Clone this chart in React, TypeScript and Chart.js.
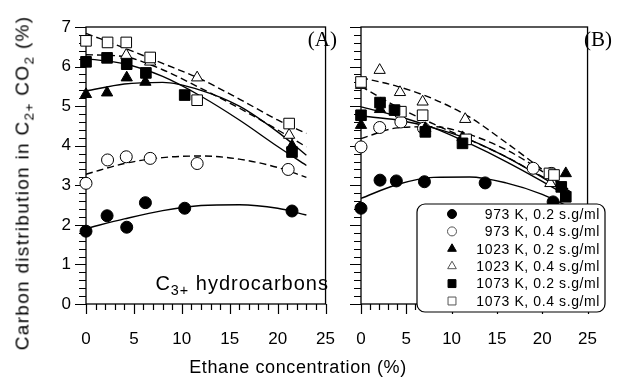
import React, { useEffect, useRef } from 'react';
import { Chart, registerables } from 'chart.js';

Chart.register(...registerables);

// Axis ticks
const X_TICKS = [0, 5, 10, 15, 20, 25];
const Y_TICKS = [0, 1, 2, 3, 4, 5, 6, 7];
const X_MINOR_STEP = 1;
const Y_MINOR_STEP = 0.2;

const SERIES_LABELS = [
  '973 K, 0.2 s.g/ml',
  '973 K, 0.4 s.g/ml',
  '1023 K, 0.2 s.g/ml',
  '1023 K, 0.4 s.g/ml',
  '1073 K, 0.2 s.g/ml',
  '1073 K, 0.4 s.g/ml',
];

// Panel (A) measurements: ethane concentration (%) / carbon share (%)
const A_973_02_X = [0, 2.2, 4.25, 6.2, 10.3, 21.5];
const A_973_02_Y = [1.84, 2.23, 1.94, 2.56, 2.42, 2.35];
const A_973_04_X = [0, 2.25, 4.2, 6.7, 11.6, 21.1];
const A_973_04_Y = [3.05, 3.64, 3.72, 3.68, 3.55, 3.4];
const A_1023_02_X = [0, 2.2, 4.25, 6.2, 21.5];
const A_1023_02_Y = [5.3, 5.34, 5.72, 5.61, 4.0];
const A_1023_04_X = [4.2, 6.7, 11.6, 21.2];
const A_1023_04_Y = [6.29, 6.12, 5.72, 4.27];
const A_1073_02_X = [0, 2.2, 4.25, 6.25, 10.3, 21.5];
const A_1073_02_Y = [6.12, 6.22, 6.06, 5.84, 5.28, 3.84];
const A_1073_04_X = [0, 2.25, 4.2, 6.7, 11.6, 21.2];
const A_1073_04_Y = [6.65, 6.61, 6.61, 6.23, 5.15, 4.56];

// Panel (B) measurements
const B_973_02_X = [0, 2.1, 3.9, 7.0, 13.7, 21.2];
const B_973_02_Y = [2.42, 3.13, 3.11, 3.09, 3.06, 2.58];
const B_973_04_X = [0, 2.06, 4.4, 6.9, 19.0, 21.0];
const B_973_04_Y = [3.97, 4.46, 4.6, 4.44, 3.43, 3.3];
const B_1023_02_X = [0, 2.1, 7.1, 11.2, 22.6];
const B_1023_02_Y = [4.52, 4.92, 4.44, 4.21, 3.3];
const B_1023_04_X = [0, 2.06, 4.3, 6.8, 11.5, 20.9];
const B_1023_04_Y = [5.53, 5.91, 5.35, 5.11, 4.67, 3.05];
const B_1073_02_X = [0, 2.1, 3.7, 7.1, 11.2, 22.1, 22.6];
const B_1073_02_Y = [4.77, 5.09, 4.9, 4.35, 4.06, 2.96, 2.71];
const B_1073_04_X = [0, 4.4, 6.8, 11.6, 20.8, 21.3];
const B_1073_04_Y = [5.61, 4.86, 4.77, 4.16, 3.3, 3.26];

// Fitted trend lines, sampled along the ethane axis
const FIT_X = [0, 4, 8, 12, 16, 20, 23];
const A_FIT_973_02 = [1.91, 2.15, 2.36, 2.49, 2.51, 2.42, 2.25];
const A_FIT_973_04 = [3.28, 3.55, 3.7, 3.74, 3.66, 3.45, 3.2];
const A_FIT_1023_02 = [5.38, 5.56, 5.6, 5.4, 5.0, 4.35, 3.76];
const A_FIT_1023_04 = [6.3, 6.25, 5.92, 5.45, 4.95, 4.4, 3.97];
const A_FIT_1073_02 = [6.2, 6.07, 5.75, 5.25, 4.65, 3.98, 3.5];
const A_FIT_1073_04 = [6.84, 6.47, 6.08, 5.68, 5.18, 4.65, 4.31];

const B_FIT_973_02 = [2.67, 3.02, 3.2, 3.21, 3.06, 2.77, 2.45];
const B_FIT_973_04 = [4.18, 4.45, 4.48, 4.28, 3.9, 3.35, 2.85];
const B_FIT_1023_02 = [4.75, 4.65, 4.45, 4.15, 3.72, 3.2, 2.78];
const B_FIT_1023_04 = [5.72, 5.5, 5.18, 4.72, 4.08, 3.4, 2.88];
const B_FIT_1073_02 = [4.98, 4.75, 4.45, 4.05, 3.6, 3.1, 2.7];
const B_FIT_1073_04 = [5.5, 4.98, 4.55, 4.15, 3.72, 3.22, 2.85];

type Marker = { pointStyle: string; radius: number; legendRadius: number; filled: boolean; order: number };

const MARKERS: Marker[] = [
  { pointStyle: 'circle', radius: 6, legendRadius: 4.5, filled: true, order: 5 },
  { pointStyle: 'circle', radius: 6, legendRadius: 4.5, filled: false, order: 6 },
  { pointStyle: 'triangle', radius: 6.5, legendRadius: 5, filled: true, order: 3 },
  { pointStyle: 'triangle', radius: 6.5, legendRadius: 5, filled: false, order: 4 },
  { pointStyle: 'rect', radius: 7.5, legendRadius: 5.6, filled: true, order: 1 },
  { pointStyle: 'rect', radius: 7.5, legendRadius: 5.6, filled: false, order: 2 },
];
const FIT_DASHED = [false, true, false, true, false, true];

const FONT_FAMILY = '"Liberation Sans", Arial, Helvetica, sans-serif';

function pts(xs: number[], ys: number[]) {
  return xs.map((x, i) => ({ x, y: ys[i] }));
}

function buildDatasets(xs: number[][], ys: number[][], fits: number[][]) {
  const ds: any[] = [];
  fits.forEach((f, i) => {
    ds.push({
      type: 'line',
      label: SERIES_LABELS[i] + ' fit',
      data: pts(FIT_X, f),
      borderColor: '#000',
      borderWidth: 1.4,
      borderDash: FIT_DASHED[i] ? [7, 4] : [],
      pointRadius: 0,
      cubicInterpolationMode: 'monotone',
      fill: false,
      order: 10,
      clip: false,
    });
  });
  xs.forEach((x, i) => {
    const m = MARKERS[i];
    ds.push({
      type: 'scatter',
      label: SERIES_LABELS[i],
      data: pts(x, ys[i]),
      showLine: false,
      pointStyle: m.pointStyle,
      pointRadius: m.radius,
      pointBackgroundColor: m.filled ? '#000' : '#fff',
      pointBorderColor: '#000',
      pointBorderWidth: 1,
      order: m.order,
      clip: false,
    });
  });
  return ds;
}

// Small marker glyph for the key
function keyMarker(ctx: CanvasRenderingContext2D, style: string, r: number, x: number, y: number) {
  ctx.beginPath();
  if (style === 'circle') {
    ctx.arc(x, y, r, 0, Math.PI * 2);
  } else if (style === 'triangle') {
    const h = r * 1.5;
    const w = r * Math.sqrt(3);
    ctx.moveTo(x, y - r);
    ctx.lineTo(x + w / 2, y - r + h);
    ctx.lineTo(x - w / 2, y - r + h);
    ctx.closePath();
  } else {
    const s = r * Math.SQRT1_2;
    ctx.rect(x - s, y - s, 2 * s, 2 * s);
  }
  ctx.fill();
  ctx.stroke();
}

// Frame plus major / minor tick marks pointing outward
const framePlugin = {
  id: 'frameTicks',
  beforeDatasetsDraw(chart: any) {
    const { ctx, chartArea: a, scales } = chart;
    const x = scales.x;
    const y = scales.y;
    ctx.save();
    ctx.strokeStyle = '#000';
    ctx.lineWidth = 1.3;
    ctx.strokeRect(a.left, a.top, a.right - a.left, a.bottom - a.top);
    ctx.lineWidth = 1.2;
    ctx.beginPath();
    const xMax = X_TICKS[X_TICKS.length - 1];
    for (let v = X_TICKS[0]; v <= xMax + 1e-9; v += X_MINOR_STEP) {
      const px = Math.round(x.getPixelForValue(v)) + 0.5;
      const major = X_TICKS.some((t) => Math.abs(t - v) < 1e-6);
      ctx.moveTo(px, a.bottom);
      ctx.lineTo(px, a.bottom + (major ? 10 : 6));
    }
    const yMax = Y_TICKS[Y_TICKS.length - 1];
    const n = Math.round((yMax - Y_TICKS[0]) / Y_MINOR_STEP);
    for (let i = 0; i <= n; i++) {
      const v = Y_TICKS[0] + i * Y_MINOR_STEP;
      const py = Math.round(y.getPixelForValue(v)) + 0.5;
      const major = Y_TICKS.some((t) => Math.abs(t - v) < 1e-6);
      ctx.moveTo(a.left, py);
      ctx.lineTo(a.left - (major ? 11 : 7), py);
    }
    ctx.stroke();
    ctx.restore();
  },
};

// Boxed key listing the six reaction conditions
const legendPlugin = {
  id: 'conditionKey',
  afterDraw(chart: any) {
    const opts = chart.options.plugins.conditionKey;
    if (!opts || !opts.display) return;
    const { ctx } = chart;
    const { left, top, width, height, markerX, textRight, rowTop, rowStep } = opts;
    ctx.save();
    ctx.beginPath();
    ctx.roundRect(left, top, width, height, 8);
    ctx.fillStyle = '#fff';
    ctx.fill();
    ctx.lineWidth = 1.2;
    ctx.strokeStyle = '#000';
    ctx.stroke();
    ctx.font = '14px ' + FONT_FAMILY;
    (ctx as any).letterSpacing = '0.6px';
    ctx.textAlign = 'right';
    ctx.textBaseline = 'middle';
    SERIES_LABELS.forEach((label, i) => {
      const m = MARKERS[i];
      const cy = rowTop + i * rowStep;
      ctx.fillStyle = m.filled ? '#000' : '#fff';
      ctx.strokeStyle = m.filled ? '#000' : '#555';
      ctx.lineWidth = 1;
      keyMarker(ctx, m.pointStyle, m.legendRadius, markerX, cy);
      ctx.fillStyle = '#000';
      ctx.fillText(label, textRight, cy + 1);
    });
    ctx.restore();
  },
};

function panelOptions(p: { yWidth: number; xHeight: number; showY: boolean; padRight: number; key: any }) {
  const tickFont = { family: FONT_FAMILY, size: 17 };
  return {
    responsive: false,
    animation: false,
    events: [],
    layout: { padding: { top: 27, right: p.padRight, left: 0, bottom: 0 } },
    plugins: {
      legend: { display: false },
      tooltip: { enabled: false },
      conditionKey: p.key,
    },
    scales: {
      x: {
        type: 'linear',
        min: X_TICKS[0],
        max: X_TICKS[X_TICKS.length - 1],
        afterBuildTicks: (s: any) => {
          s.ticks = X_TICKS.map((v) => ({ value: v }));
        },
        afterFit: (s: any) => {
          s.height = p.xHeight;
        },
        grid: { display: false, drawTicks: false },
        border: { display: false },
        ticks: { font: tickFont, color: '#000', padding: 25, maxRotation: 0, autoSkip: false },
      },
      y: {
        type: 'linear',
        min: Y_TICKS[0],
        max: Y_TICKS[Y_TICKS.length - 1],
        afterBuildTicks: (s: any) => {
          s.ticks = Y_TICKS.map((v) => ({ value: v }));
        },
        afterFit: (s: any) => {
          s.width = p.yWidth;
        },
        grid: { display: false, drawTicks: false },
        border: { display: false },
        ticks: { display: p.showY, font: tickFont, color: '#000', padding: 15, autoSkip: false },
      },
    },
  };
}

const sub: React.CSSProperties = { fontSize: '0.72em', position: 'relative', top: '0.38em' };

export default function App() {
  const aRef = useRef<HTMLCanvasElement>(null);
  const bRef = useRef<HTMLCanvasElement>(null);

  useEffect(() => {
    const chartA = new Chart(aRef.current as HTMLCanvasElement, {
      type: 'scatter',
      data: {
        datasets: buildDatasets(
          [A_973_02_X, A_973_04_X, A_1023_02_X, A_1023_04_X, A_1073_02_X, A_1073_04_X],
          [A_973_02_Y, A_973_04_Y, A_1023_02_Y, A_1023_04_Y, A_1073_02_Y, A_1073_04_Y],
          [A_FIT_973_02, A_FIT_973_04, A_FIT_1023_02, A_FIT_1023_04, A_FIT_1073_02, A_FIT_1073_04]
        ),
      },
      options: panelOptions({ yWidth: 86, xHeight: 77, showY: true, padRight: 23, key: { display: false } }) as any,
      plugins: [framePlugin, legendPlugin],
    });
    const chartB = new Chart(bRef.current as HTMLCanvasElement, {
      type: 'scatter',
      data: {
        datasets: buildDatasets(
          [B_973_02_X, B_973_04_X, B_1023_02_X, B_1023_04_X, B_1073_02_X, B_1073_04_X],
          [B_973_02_Y, B_973_04_Y, B_1023_02_Y, B_1023_04_Y, B_1073_02_Y, B_1073_04_Y],
          [B_FIT_973_02, B_FIT_973_04, B_FIT_1023_02, B_FIT_1023_04, B_FIT_1073_02, B_FIT_1073_04]
        ),
      },
      options: panelOptions({
        yWidth: 61,
        xHeight: 77,
        showY: false,
        padRight: 10,
        key: {
          display: true,
          left: 117,
          top: 204,
          width: 188,
          height: 108,
          markerX: 152,
          textRight: 300,
          rowTop: 214,
          rowStep: 17.4,
        },
      }) as any,
      plugins: [framePlugin, legendPlugin],
    });
    return () => {
      chartA.destroy();
      chartB.destroy();
    };
  }, []);

  return (
    <div
      style={{
        position: 'absolute',
        left: 0,
        top: 0,
        width: 622,
        height: 381,
        background: '#fff',
        color: '#000',
        fontFamily: FONT_FAMILY,
        overflow: 'hidden',
      }}
    >
      <canvas ref={aRef} width={360} height={381} style={{ position: 'absolute', left: 0, top: 0 }} />
      <canvas ref={bRef} width={322} height={381} style={{ position: 'absolute', left: 300, top: 0 }} />
      <div
        style={{
          position: 'absolute',
          left: 22,
          top: 183,
          transform: 'translate(-50%, -50%) rotate(-90deg)',
          whiteSpace: 'nowrap',
          fontSize: 19,
          lineHeight: 1,
          letterSpacing: '1.3px',
        }}
      >
        Carbon distribution in C<span style={sub}>2+</span> CO<span style={sub}>2</span> (%)
      </div>
      <div
        style={{
          position: 'absolute',
          left: 298,
          top: 367,
          transform: 'translate(-50%, -50%)',
          whiteSpace: 'nowrap',
          fontSize: 18,
          lineHeight: 1,
          letterSpacing: '0.6px',
        }}
      >
        Ethane concentration (%)
      </div>
      <div
        style={{
          position: 'absolute',
          right: 622 - 337,
          top: 29,
          fontFamily: '"Liberation Serif", "Times New Roman", serif',
          fontSize: 21,
          lineHeight: 1,
          whiteSpace: 'nowrap',
        }}
      >
        (A)
      </div>
      <div
        style={{
          position: 'absolute',
          right: 622 - 612,
          top: 29,
          fontFamily: '"Liberation Serif", "Times New Roman", serif',
          fontSize: 21,
          lineHeight: 1,
          whiteSpace: 'nowrap',
        }}
      >
        (B)
      </div>
      <div
        style={{
          position: 'absolute',
          right: 622 - 329,
          top: 273,
          fontSize: 20,
          lineHeight: 1,
          whiteSpace: 'nowrap',
          letterSpacing: '1px',
        }}
      >
        C<span style={{ fontSize: '0.72em', position: 'relative', top: '0.35em' }}>3+</span> hydrocarbons
      </div>
    </div>
  );
}
